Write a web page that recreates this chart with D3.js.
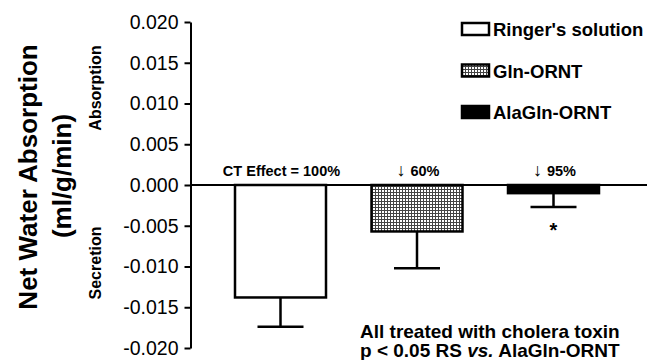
<!DOCTYPE html>
<meta charset="utf-8">
<html>
  <head>
    <title>Net Water Absorption</title>
    <script src="https://d3js.org/d3.v7.min.js"></script>
    <style>
      body { margin: 0; background: #fff; }
      svg { font-family: "Liberation Sans", Arial, sans-serif; }
      .tick text { font-size: 19.5px; fill: #000; }
      .lbl { font-weight: bold; fill: #000; }
    </style>
  </head>
  <body>
    <svg id="chart" width="647" height="360"></svg>
    <script>
      // data
      const groups = ["Ringer's solution", "Gln-ORNT", "AlaGln-ORNT"];
      const means = [-0.0138, -0.0057, -0.0010];
      const errors = [0.0036, 0.0045, 0.0017];
      const arrows = ["", "\u2193 ", "\u2193 "];
      const effects = ["CT Effect = 100%", "60%", "95%"];
      const yTicks = [-0.020, -0.015, -0.010, -0.005, 0.000, 0.005, 0.010, 0.015, 0.020];

      const svg = d3.select("#chart");

      // pattern for Gln-ORNT
      const defs = svg.append("defs");
      const pat = defs.append("pattern")
        .attr("id", "mesh")
        .attr("patternUnits", "userSpaceOnUse")
        .attr("width", 3).attr("height", 3);
      pat.append("rect").attr("width", 3).attr("height", 3).attr("fill", "#fff");
      pat.append("path")
        .attr("d", "M0 0.5H3M0.5 0V3")
        .attr("stroke", "#444").attr("stroke-width", 1);

      const fills = ["#fff", "url(#mesh)", "#000"];

      const y = d3.scaleLinear().domain([-0.02, 0.02]).range([348, 22]);
      const x = d3.scaleBand().domain(groups).range([235, 599])
                  .paddingInner(1 / 3).paddingOuter(0);
      const axisX = 190.5;

      // y axis
      const yAxis = d3.axisLeft(y)
        .tickValues(yTicks)
        .tickSize(6)
        .tickSizeOuter(0)
        .tickPadding(6)
        .tickFormat(d => d.toFixed(3));

      const gy = svg.append("g")
        .attr("transform", `translate(${axisX},0)`)
        .call(yAxis);
      gy.select(".domain").attr("stroke", "#000").attr("stroke-width", 2);
      gy.selectAll(".tick line").attr("stroke", "#000").attr("stroke-width", 2);

      // bars
      svg.selectAll("rect.bar")
        .data(groups)
        .enter()
        .append("rect")
          .attr("class", "bar")
          .attr("x", d => x(d))
          .attr("y", y(0))
          .attr("width", x.bandwidth())
          .attr("height", (d, i) => y(means[i]) - y(0))
          .attr("fill", (d, i) => fills[i])
          .attr("stroke", "#000")
          .attr("stroke-width", 2.5);

      // error bars
      const capW = 46;
      groups.forEach((g, i) => {
        const cx = x(g) + x.bandwidth() / 2;
        svg.append("line")
          .attr("x1", cx).attr("x2", cx)
          .attr("y1", y(means[i])).attr("y2", y(means[i] - errors[i]))
          .attr("stroke", "#000").attr("stroke-width", 2.5);
        svg.append("line")
          .attr("x1", cx - capW / 2).attr("x2", cx + capW / 2)
          .attr("y1", y(means[i] - errors[i])).attr("y2", y(means[i] - errors[i]))
          .attr("stroke", "#000").attr("stroke-width", 2.5);
        const t = svg.append("text")
          .attr("class", "lbl")
          .attr("x", cx + 1).attr("y", 176)
          .attr("text-anchor", "middle")
          .attr("font-size", 14.5);
        t.append("tspan").attr("font-weight", "normal").attr("font-size", 18).text(arrows[i]);
        t.append("tspan").text(effects[i]);
      });

      // zero line
      svg.append("line")
        .attr("x1", axisX).attr("x2", 647)
        .attr("y1", y(0)).attr("y2", y(0))
        .attr("stroke", "#000").attr("stroke-width", 2);

      // significance star
      svg.append("text")
        .attr("class", "lbl")
        .attr("x", x(groups[2]) + x.bandwidth() / 2)
        .attr("y", y(means[2] - errors[2]) + 30)
        .attr("text-anchor", "middle")
        .attr("font-size", 20)
        .text("*");

      // axis titles
      svg.append("text")
        .attr("class", "lbl")
        .attr("transform", "translate(37,177) rotate(-90)")
        .attr("text-anchor", "middle")
        .attr("font-size", 26)
        .text("Net Water Absorption");
      svg.append("text")
        .attr("class", "lbl")
        .attr("transform", "translate(71,176) rotate(-90)")
        .attr("text-anchor", "middle")
        .attr("font-size", 26)
        .text("(ml/g/min)");
      svg.append("text")
        .attr("class", "lbl")
        .attr("transform", "translate(101,88) rotate(-90)")
        .attr("text-anchor", "middle")
        .attr("font-size", 16)
        .text("Absorption");
      svg.append("text")
        .attr("class", "lbl")
        .attr("transform", "translate(101,263) rotate(-90)")
        .attr("text-anchor", "middle")
        .attr("font-size", 16)
        .text("Secretion");

      // legend
      const leg = svg.append("g");
      groups.forEach((g, i) => {
        const cy = 29 + i * 41.5;
        leg.append("rect")
          .attr("x", 462).attr("y", cy - 6)
          .attr("width", 27).attr("height", 12)
          .attr("fill", fills[i])
          .attr("stroke", "#000").attr("stroke-width", 2.5);
        leg.append("text")
          .attr("class", "lbl")
          .attr("x", 493).attr("y", cy + 7)
          .attr("font-size", 18.5)
          .text(g);
      });

      // notes
      svg.append("text")
        .attr("class", "lbl")
        .attr("x", 360).attr("y", 338)
        .attr("font-size", 19)
        .text("All treated with cholera toxin");
      const note2 = svg.append("text")
        .attr("class", "lbl")
        .attr("x", 360).attr("y", 357)
        .attr("font-size", 19);
      note2.append("tspan").text("p < 0.05 RS ");
      note2.append("tspan").attr("font-style", "italic").text("vs.");
      note2.append("tspan").text(" AlaGln-ORNT");
    </script>
  </body>
</html>
